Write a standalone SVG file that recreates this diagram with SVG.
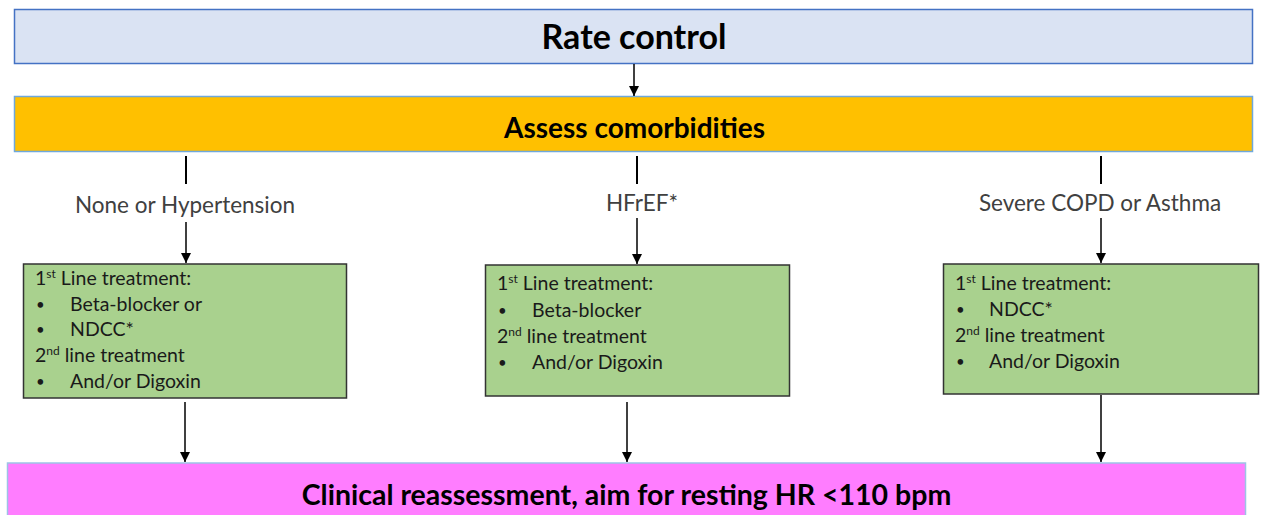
<svg xmlns="http://www.w3.org/2000/svg" width="1261" height="515" viewBox="0 0 1261 515">
  <defs>
    <marker id="arrow" viewBox="0 0 10 10" refX="10" refY="5" markerWidth="10" markerHeight="10" markerUnits="userSpaceOnUse" orient="auto">
      <path d="M0,0 L10,5 L0,10 z" fill="#000"/>
    </marker>
    <style>
      .title { font-family: Lato, "Liberation Sans", sans-serif; font-weight: bold; fill: #000; text-anchor: middle; }
      .label { font-family: Lato, "Liberation Sans", sans-serif; font-size: 22.5px; fill: #404040; text-anchor: middle; }
      .body { font-family: Lato, "Liberation Sans", sans-serif; font-size: 19.5px; fill: #1a1a1a; }
      .bullet { font-family: Lato, "Liberation Sans", sans-serif; font-size: 15px; fill: #1a1a1a; }
      .sup { font-size: 12px; }
      .treat { fill: #A9D18E; stroke: #333; stroke-width: 1.5; }
      .link { stroke: #000; stroke-width: 2; fill: none; }
      .arrow { stroke: #000; stroke-width: 1.5; fill: none; marker-end: url(#arrow); }
    </style>
  </defs>

  <!-- Top step -->
  <g id="rate-control">
    <rect x="14.5" y="9.5" width="1238" height="54" fill="#DAE3F3" stroke="#4472C4" stroke-width="1.5"/>
    <text class="title" x="634" y="49" font-size="34">Rate control</text>
  </g>

  <g id="assess-comorbidities">
    <rect x="14.5" y="96.5" width="1238" height="55" fill="#FFC000" stroke="#6FA8DC" stroke-width="1.5"/>
    <text class="title" x="634.5" y="138" font-size="28">Assess comorbidities</text>
  </g>

  <!-- Branch labels -->
  <g id="label-none">
    <text class="label" x="185" y="213">None or Hypertension</text>
  </g>
  <g id="label-hfref">
    <text class="label" x="642" y="211">HFrEF*</text>
  </g>
  <g id="label-copd">
    <text class="label" x="1100" y="211">Severe COPD or Asthma</text>
  </g>

  <!-- Treatment boxes -->
  <g id="treat-none">
    <rect class="treat" x="23.5" y="264" width="323" height="134"/>
    <text class="body" x="35" y="285">1<tspan class="sup" dy="-7">st</tspan><tspan dy="7"> Line treatment:</tspan></text>
    <text class="bullet" x="36" y="310">•</text>
    <text class="body" x="70" y="311">Beta-blocker or</text>
    <text class="bullet" x="36" y="335">•</text>
    <text class="body" x="70" y="336">NDCC*</text>
    <text class="body" x="35" y="362">2<tspan class="sup" dy="-7">nd</tspan><tspan dy="7"> line treatment</tspan></text>
    <text class="bullet" x="36" y="387">•</text>
    <text class="body" x="70" y="388">And/or Digoxin</text>
  </g>

  <g id="treat-hfref">
    <rect class="treat" x="485.5" y="265" width="304" height="131"/>
    <text class="body" x="497" y="290">1<tspan class="sup" dy="-7">st</tspan><tspan dy="7"> Line treatment:</tspan></text>
    <text class="bullet" x="498" y="316">•</text>
    <text class="body" x="532" y="317">Beta-blocker</text>
    <text class="body" x="497" y="343">2<tspan class="sup" dy="-7">nd</tspan><tspan dy="7"> line treatment</tspan></text>
    <text class="bullet" x="498" y="368">•</text>
    <text class="body" x="532" y="369">And/or Digoxin</text>
  </g>

  <g id="treat-copd">
    <rect class="treat" x="943.5" y="264" width="315" height="130"/>
    <text class="body" x="955" y="290">1<tspan class="sup" dy="-7">st</tspan><tspan dy="7"> Line treatment:</tspan></text>
    <text class="bullet" x="956" y="315">•</text>
    <text class="body" x="989" y="316">NDCC*</text>
    <text class="body" x="955" y="342">2<tspan class="sup" dy="-7">nd</tspan><tspan dy="7"> line treatment</tspan></text>
    <text class="bullet" x="956" y="367">•</text>
    <text class="body" x="989" y="368">And/or Digoxin</text>
  </g>

  <!-- Final step -->
  <g id="reassessment">
    <rect x="7.5" y="463" width="1238" height="60" fill="#FF7DFF" stroke="#9DC3E6" stroke-width="1.5"/>
    <text class="title" x="626.5" y="505" font-size="28.5">Clinical reassessment, aim for resting HR &lt;110 bpm</text>
  </g>

  <!-- Connectors -->
  <g id="connectors">
    <line class="arrow" x1="634" y1="64" x2="634" y2="96"/>

    <line class="link" x1="186" y1="156" x2="186" y2="184"/>
    <line class="arrow" x1="186" y1="222" x2="186" y2="263"/>
    <line class="arrow" x1="185" y1="402" x2="185" y2="462"/>

    <line class="link" x1="637" y1="156" x2="637" y2="184"/>
    <line class="arrow" x1="637" y1="218" x2="637" y2="264"/>
    <line class="arrow" x1="627" y1="402" x2="627" y2="462"/>

    <line class="link" x1="1101" y1="156" x2="1101" y2="184"/>
    <line class="arrow" x1="1101" y1="218" x2="1101" y2="263"/>
    <line class="arrow" x1="1101" y1="395" x2="1101" y2="462"/>
  </g>
</svg>
